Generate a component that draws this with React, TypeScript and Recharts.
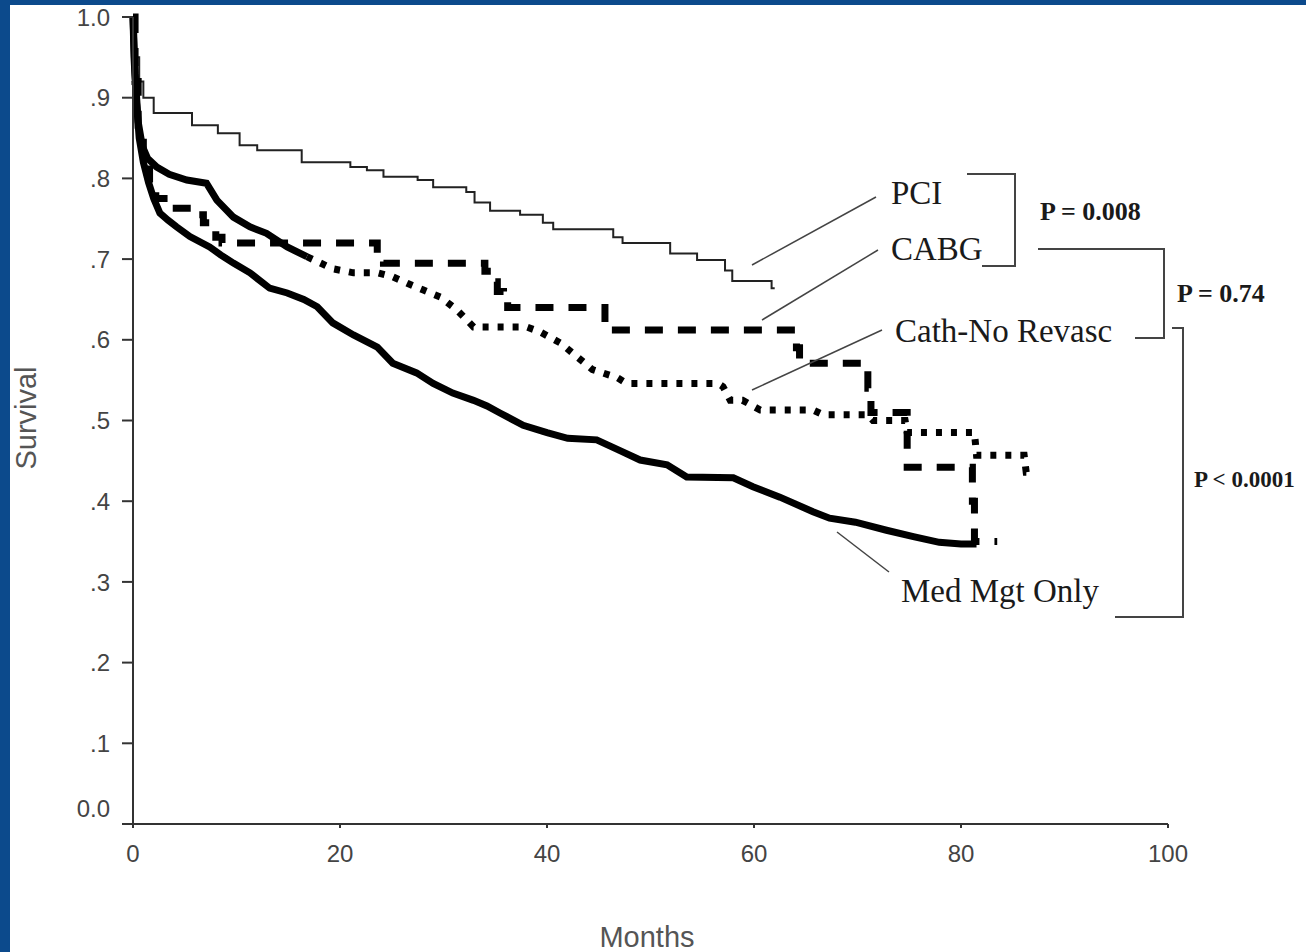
import { LineChart, Line, XAxis, YAxis } from "recharts";

const W = 1306;
const H = 952;

// Kaplan-Meier curves: [month, survival]
const pciPts: [number, number][] = [
  [0, 1.0], [0.3, 0.95], [0.6, 0.92], [1, 0.9], [2, 0.881], [5.7, 0.866], [8.2, 0.856],
  [10.3, 0.841], [12, 0.835], [16.3, 0.82], [21, 0.814], [22.6, 0.81], [24.2, 0.802],
  [27.5, 0.798], [29, 0.789], [32.2, 0.783], [33, 0.77], [34.5, 0.76], [37.4, 0.755],
  [39.6, 0.745], [40.6, 0.737], [46.4, 0.727], [47.3, 0.72], [51.9, 0.707], [54.5, 0.699],
  [57.2, 0.686], [57.9, 0.673], [61.7, 0.664], [62, 0.664],
];

const cabgPts: [number, number][] = [
  [0, 1.0], [0.2, 0.92], [0.5, 0.86], [1, 0.82], [1.6, 0.795], [2.2, 0.775], [3, 0.763],
  [6.2, 0.755], [6.8, 0.745], [7.4, 0.735], [8, 0.727], [8.6, 0.72], [23.6, 0.705],
  [24.2, 0.695], [34, 0.685], [34.6, 0.672], [35.2, 0.66], [35.8, 0.648], [36.2, 0.64],
  [45.6, 0.612], [64.1, 0.59], [64.4, 0.571], [71, 0.54], [71.3, 0.51], [74.8, 0.442],
  [81.1, 0.4], [81.3, 0.35], [83.5, 0.35],
];

// Cath-No Revasc: the dense early part reads as a solid band, the rest as dots
const cathEarlyPts: [number, number][] = [
  [0, 1.0], [0.2, 0.93], [0.5, 0.87], [0.9, 0.84], [1.4, 0.825], [2.3, 0.814], [3.5, 0.805],
  [5.2, 0.798], [7.1, 0.794], [8.1, 0.773], [9.7, 0.752], [11.3, 0.74], [12.9, 0.732],
  [14.9, 0.715], [16.8, 0.703],
];
const cathLatePts: [number, number][] = [
  [16.8, 0.703], [19.3, 0.688], [21.3, 0.683], [23.6, 0.683], [25.1, 0.678], [26.5, 0.67],
  [28, 0.662], [29.7, 0.653], [31.3, 0.637], [32.9, 0.616], [38, 0.616], [39.3, 0.61],
  [41.3, 0.596], [42.9, 0.579], [44.4, 0.563], [46.8, 0.553], [47.7, 0.546], [56.5, 0.546],
  [57, 0.542], [57.7, 0.525], [58.9, 0.525], [60.6, 0.513], [65.7, 0.513], [66.7, 0.507],
  [71, 0.507], [71.5, 0.5], [74.6, 0.5], [74.8, 0.485], [81.3, 0.485], [81.5, 0.457],
  [86.1, 0.457], [86.3, 0.436], [86.8, 0.436],
];

const medPts: [number, number][] = [
  [0, 1.0], [0.1, 0.95], [0.3, 0.9], [0.6, 0.85], [1, 0.82], [1.5, 0.795], [2, 0.775],
  [2.6, 0.757], [3.4, 0.748], [4.2, 0.74], [5.5, 0.728], [7.4, 0.715], [8.5, 0.705],
  [9.7, 0.695], [11.3, 0.683], [13.2, 0.664], [14.9, 0.658], [16.5, 0.65], [17.8, 0.641],
  [19.3, 0.621], [21.3, 0.606], [23.6, 0.591], [25.1, 0.571], [27.4, 0.559], [29, 0.546],
  [30.9, 0.534], [32.9, 0.525], [34.2, 0.518], [35.5, 0.509], [37.7, 0.494], [40, 0.485],
  [42, 0.478], [44.8, 0.476], [47, 0.463], [49, 0.451], [51.6, 0.445], [53.5, 0.43],
  [58, 0.429], [59.9, 0.418], [62.5, 0.405], [65.7, 0.387], [67.3, 0.379], [69.8, 0.374],
  [72.8, 0.364], [75.4, 0.356], [77.9, 0.349], [80, 0.347], [81.5, 0.347],
];

const xTicks = [0, 20, 40, 60, 80, 100];
const yTicks = [0, 0.1, 0.2, 0.3, 0.4, 0.5, 0.6, 0.7, 0.8, 0.9, 1.0];

const toRows = (pts: [number, number][]) => pts.map(([m, s]) => ({ m, s }));

const SANS = "'Liberation Sans', Arial, sans-serif";
const SERIF = "'Liberation Serif', 'Times New Roman', serif";

function YTick(props: any) {
  const { x, y, payload } = props;
  const v = payload.value;
  const label = v === 0 ? "0.0" : v === 1 ? "1.0" : "." + Math.round(v * 10);
  return (
    <text x={x - 2} y={v === 0 ? y - 16 : y} dy="0.36em" textAnchor="end" fontSize={24} fill="#444" fontFamily={SANS}>
      {label}
    </text>
  );
}

export default function App() {
  return (
    <div style={{ position: "absolute", left: 0, top: 0, width: W, height: H, background: "#fff", overflow: "hidden" }}>
      <LineChart width={W} height={H} margin={{ top: 17, right: 138, left: 73, bottom: 88 }}>
        <XAxis
          type="number"
          dataKey="m"
          domain={[0, 100]}
          ticks={xTicks}
          height={40}
          tickSize={4}
          tickMargin={17}
          axisLine={{ stroke: "#333", strokeWidth: 2 }}
          tickLine={{ stroke: "#333", strokeWidth: 2 }}
          tick={{ fontSize: 24, fill: "#444", fontFamily: SANS }}
        />
        <YAxis
          type="number"
          dataKey="s"
          domain={[0, 1]}
          ticks={yTicks}
          width={60}
          tickSize={11}
          tickMargin={10}
          axisLine={{ stroke: "#333", strokeWidth: 2 }}
          tickLine={{ stroke: "#333", strokeWidth: 2 }}
          tick={<YTick />}
        />
        <Line data={toRows(pciPts)} dataKey="s" type="stepAfter" stroke="#222" strokeWidth={2}
          dot={false} isAnimationActive={false} strokeLinejoin="miter" />
        <Line data={toRows(medPts)} dataKey="s" type="linear" stroke="#000" strokeWidth={7}
          dot={false} isAnimationActive={false} />
        <Line data={toRows(cathEarlyPts)} dataKey="s" type="linear" stroke="#000" strokeWidth={7}
          dot={false} isAnimationActive={false} />
        <Line data={toRows(cathLatePts)} dataKey="s" type="linear" stroke="#000" strokeWidth={7}
          strokeDasharray="6 9" dot={false} isAnimationActive={false} />
        <Line data={toRows(cabgPts)} dataKey="s" type="stepAfter" stroke="#000" strokeWidth={7}
          strokeDasharray="18 15" dot={false} isAnimationActive={false} strokeLinejoin="miter" />
      </LineChart>

      <svg width={W} height={H} style={{ position: "absolute", left: 0, top: 0, pointerEvents: "none" }}>
        {/* frame */}
        <rect x={0} y={0} width={10} height={H} fill="#0c4a8c" />
        <rect x={0} y={0} width={W} height={5} fill="#0c4a8c" />

        {/* axis titles */}
        <text x={36} y={418} transform="rotate(-90 36 418)" textAnchor="middle" fontSize={29} fill="#555" fontFamily={SANS}>
          Survival
        </text>
        <text x={647} y={947} textAnchor="middle" fontSize={29} fill="#555" fontFamily={SANS}>
          Months
        </text>

        {/* leader lines */}
        <g stroke="#444" strokeWidth={1.5}>
          <line x1={752} y1={265} x2={876} y2={197} />
          <line x1={762} y1={320} x2={878} y2={250} />
          <line x1={752} y1={390} x2={882} y2={330} />
          <line x1={837} y1={532} x2={889} y2={572} />
        </g>

        {/* brackets */}
        <g stroke="#444" strokeWidth={2} fill="none">
          <path d="M967,174 H1015 V266 H982" />
          <path d="M1038,249 H1164 V338 H1135" />
          <path d="M1172,328 H1183 V617 H1115" />
        </g>

        <g fontFamily={SERIF} fontSize={33} fill="#1a1a1a">
          <text x={891} y={204}>PCI</text>
          <text x={891} y={260}>CABG</text>
          <text x={895} y={342}>Cath-No Revasc</text>
          <text x={901} y={602}>Med Mgt Only</text>
        </g>
        <g fontFamily={SERIF} fontSize={26} fontWeight="bold" fill="#1a1a1a">
          <text x={1040} y={220}>P = 0.008</text>
          <text x={1177} y={302}>P = 0.74</text>
        </g>
        <text x={1194} y={487} fontFamily={SERIF} fontSize={23} fontWeight="bold" fill="#1a1a1a">
          P &lt; 0.0001
        </text>
      </svg>
    </div>
  );
}
